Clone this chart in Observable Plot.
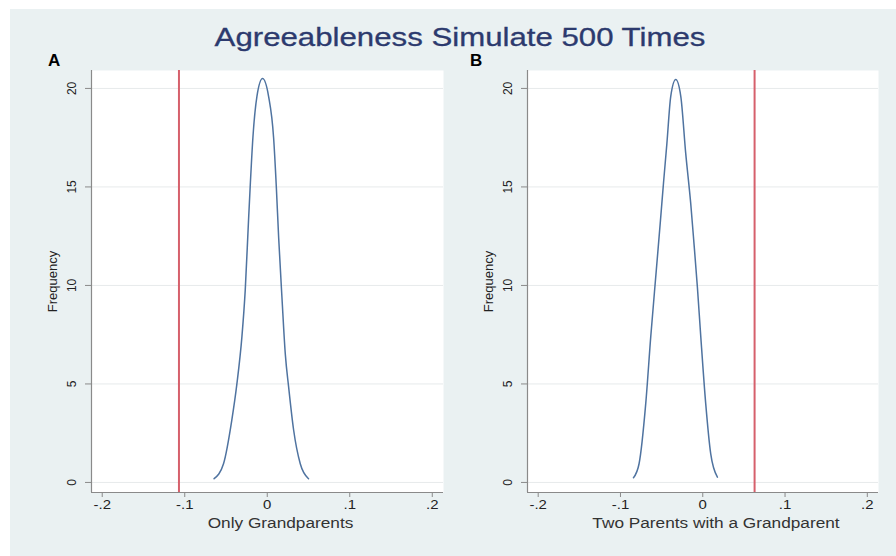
<!DOCTYPE html>
<html><head><meta charset="utf-8">
<script src="https://cdn.jsdelivr.net/npm/d3@7"></script>
<script src="https://cdn.jsdelivr.net/npm/@observablehq/plot@0.6"></script>
<style>
html,body{margin:0;padding:0;background:#fff;}
#root{position:relative;width:896px;height:556px;overflow:hidden;font-family:"Liberation Sans",Arial,sans-serif;}
#bg{position:absolute;left:10px;top:9px;right:0;bottom:0;background:#eaf1f2;}
#title{position:absolute;left:0;width:920px;top:24px;text-align:center;font-size:26px;line-height:1;color:#2c3a6e;transform:scaleX(1.2);transform-origin:460px 0;white-space:nowrap;-webkit-text-stroke:0.3px #2c3a6e;}
.lab{position:absolute;font-weight:bold;font-size:17px;line-height:1;color:#000;}
.panel{position:absolute;top:50px;}
</style>
</head><body>
<div id="root">
  <div id="bg"></div>
  <div id="title">Agreeableness Simulate 500 Times</div>
  <div class="lab" style="left:48px;top:52px;">A</div>
  <div class="lab" style="left:470px;top:52px;">B</div>
  <div id="pA" class="panel" style="left:30px;"></div>
  <div id="pB" class="panel" style="left:466px;"></div>
</div>
<script>
// ---- data ----
const xTicks = [-0.2, -0.1, 0, 0.1, 0.2];
const yTicks = [0, 5, 10, 15, 20];
const panelLetters = ["A", "B"];
const xLabels = ["Only Grandparents", "Two Parents with a Grandparent"];
const yLabel = "Frequency";
const observedA = -0.107;
const observedB = 0.063;
const densAx = [-0.0644,-0.053,-0.043,-0.0368,-0.0307,-0.0267,-0.0227,-0.0207,-0.0174,-0.0125,-0.0057,0.0016,0.0077,0.011,0.0138,0.0178,0.0219,0.0259,0.032,0.040,0.050];
const densAy = [0.19,0.95,3.15,5.0,7.4,9.75,13.3,15.0,17.5,19.6,20.5,19.6,17.5,15.0,12.45,9.4,6.5,4.85,2.65,0.95,0.19];
const densBx = [-0.0842,-0.0774,-0.0693,-0.0632,-0.0564,-0.0514,-0.0477,-0.0436,-0.0389,-0.0328,-0.0267,-0.0207,-0.0146,-0.0106,-0.0065,-0.0024,0.0036,0.0097,0.0178];
const densBy = [0.24,0.95,4.0,7.4,10.8,13.3,15.2,17.2,19.6,20.45,19.6,16.7,14.15,12.1,9.9,7.4,4.0,1.45,0.27];

const xDomain = [-0.213, 0.2136];
const yDomain = [-0.51, 20.91];
const FONT = '"Liberation Sans", Arial, sans-serif';
const RED = "#d6606c", BLUE = "#4f73a0", AXIS = "#8a8a8a", GRID = "#e7eaeb";

const fmt = d => d === 0 ? "0" : (d < 0 ? "-" : "") + String(Math.abs(+d.toFixed(3))).replace(/^0/, "");

function stretch(svg, k) {
  svg.querySelectorAll("text").forEach(t => {
    const tr = t.getAttribute("transform");
    if (tr && !tr.includes("rotate")) t.setAttribute("transform", tr + ` scale(${k},1)`);
  });
}

function panel(xs, ys, red, xlabel, mr) {
  const data = xs.map((x, i) => ({x, y: ys[i]}));
  const svg = Plot.plot({
    width: 430, height: 490,
    marginLeft: 61, marginRight: mr, marginTop: 20, marginBottom: 48,
    style: {background: "transparent", fontFamily: FONT, fontSize: "13px", color: "#222", overflow: "visible"},
    x: {domain: xDomain},
    y: {domain: yDomain},
    marks: [
      Plot.frame({fill: "white", stroke: "none"}),
      Plot.ruleY(yTicks, {stroke: GRID, strokeWidth: 1}),
      Plot.ruleX([red], {stroke: RED, strokeWidth: 2}),
      Plot.line(data, {x: "x", y: "y", stroke: BLUE, strokeWidth: 1.5, curve: "monotone-x"}),
      Plot.ruleX([xDomain[0]], {stroke: AXIS, strokeWidth: 1.2}),
      Plot.ruleY([yDomain[0]], {stroke: AXIS, strokeWidth: 1.2}),
      Plot.axisX(xTicks, {tickSize: 5, tickPadding: 2, tickFormat: fmt, stroke: AXIS, fill: "#222", fontSize: 13, label: null}),
      Plot.axisY(yTicks, {tickSize: 6, tickFormat: () => "", stroke: AXIS, label: null}),
      Plot.text(yTicks, {y: d => d, text: d => String(d), frameAnchor: "left", dx: -19, rotate: -90, textAnchor: "middle", lineAnchor: "middle", fontSize: 12, fill: "#222"}),
      Plot.text([yLabel], {text: d => d, frameAnchor: "left", dx: -39, rotate: -90, textAnchor: "middle", lineAnchor: "middle", fontSize: 13, fill: "#222"}),
      Plot.text([xlabel], {text: d => d, frameAnchor: "bottom", dx: 13, dy: 31, lineAnchor: "middle", fontSize: 15, fill: "#333"})
    ]
  });
  stretch(svg, 1.15);
  return svg;
}

document.getElementById("pA").appendChild(panel(densAx, densAy, observedA, xLabels[0], 17));
document.getElementById("pB").appendChild(panel(densBx, densBy, observedB, xLabels[1], 18));
</script>
</body></html>
